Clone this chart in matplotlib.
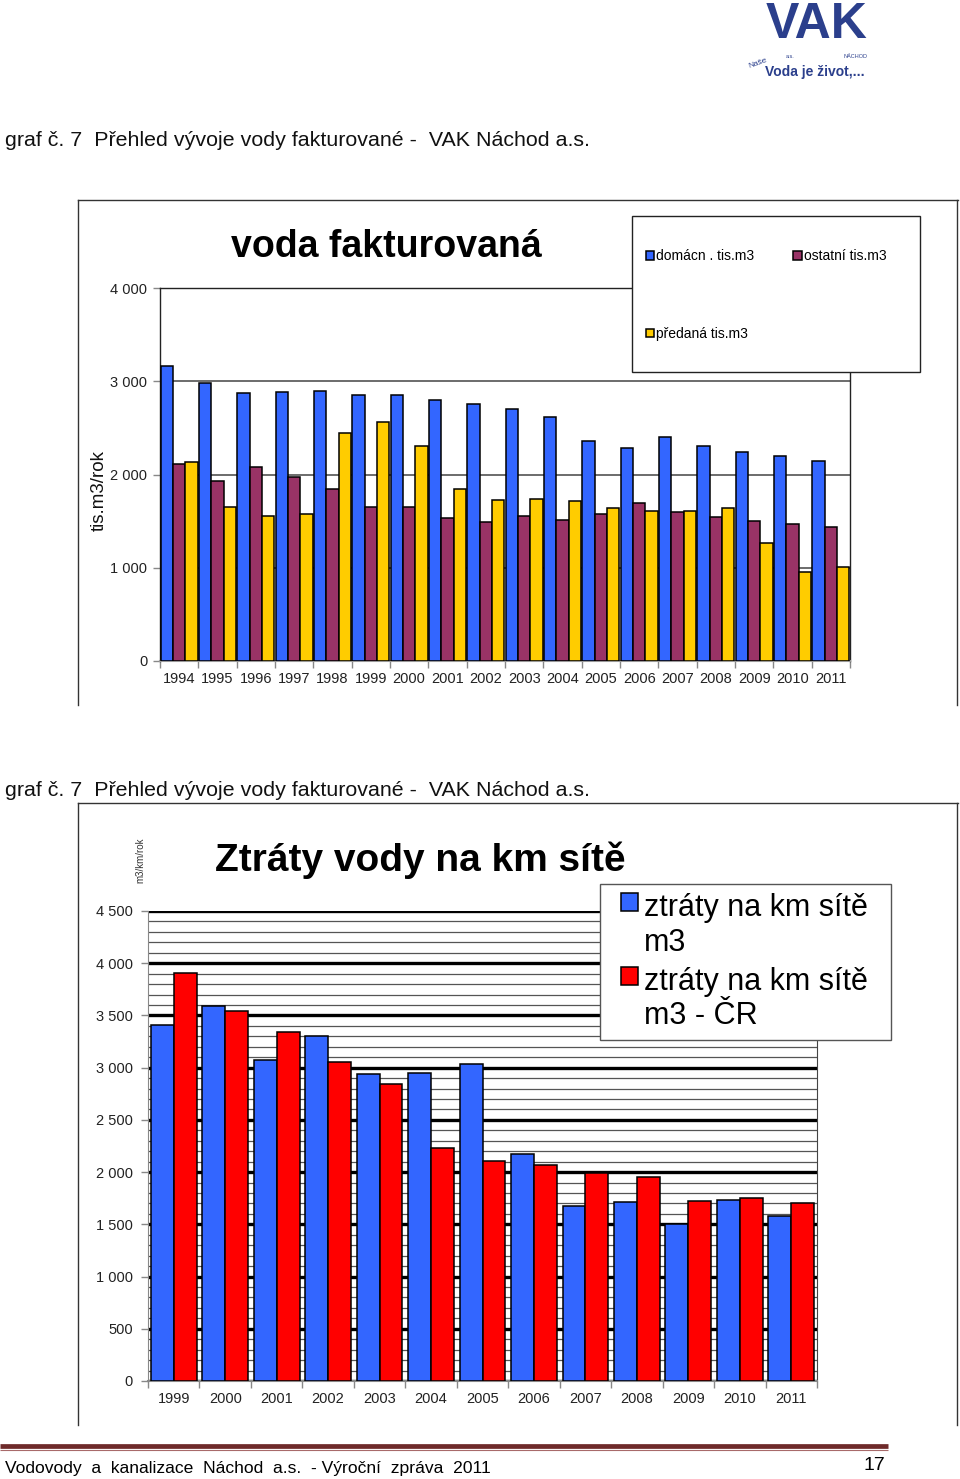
import matplotlib
matplotlib.use("Agg")
import matplotlib.pyplot as plt
import numpy as np
from matplotlib import font_manager
from matplotlib.patches import Rectangle
from matplotlib.lines import Line2D

# ---------------- data ----------------
years_top = ["1994", "1995", "1996", "1997", "1998", "1999", "2000", "2001", "2002",
             "2003", "2004", "2005", "2006", "2007", "2008", "2009", "2010", "2011"]
domacnosti = [3160, 2980, 2870, 2880, 2900, 2850, 2850, 2800, 2755,
              2700, 2620, 2355, 2280, 2400, 2305, 2240, 2195, 2145]
ostatni = [2115, 1930, 2080, 1975, 1845, 1655, 1655, 1530, 1490,
           1555, 1515, 1580, 1690, 1600, 1540, 1500, 1470, 1440]
predana = [2130, 1650, 1555, 1580, 2440, 2560, 2310, 1840, 1730,
           1740, 1720, 1640, 1610, 1610, 1640, 1270, 950, 1010]
top_series_labels = ["domácn . tis.m3", "ostatní tis.m3", "předaná tis.m3"]
top_yticks = [0, 1000, 2000, 3000, 4000]
top_yticklabels = ["0", "1 000", "2 000", "3 000", "4 000"]

years_bot = ["1999", "2000", "2001", "2002", "2003", "2004", "2005",
             "2006", "2007", "2008", "2009", "2010", "2011"]
ztraty_vak = [3410, 3590, 3070, 3305, 2935, 2945, 3035, 2170, 1675, 1710, 1500, 1730, 1580]
ztraty_cr = [3910, 3540, 3340, 3050, 2840, 2230, 2105, 2070, 1990, 1955, 1720, 1755, 1705]
bot_series_labels = ["ztráty na km sítě\nm3", "ztráty na km sítě\nm3 - ČR"]
bot_yticks = [0, 500, 1000, 1500, 2000, 2500, 3000, 3500, 4000, 4500]
bot_yticklabels = ["0", "500", "1 000", "1 500", "2 000", "2 500", "3 000", "3 500", "4 000", "4 500"]

header_text = "graf č. 7  Přehled vývoje vody fakturované -  VAK Náchod a.s."
footer_text = "Vodovody  a  kanalizace  Náchod  a.s.  - Výroční  zpráva  2011"
page_no = "17"

# ---------------- style ----------------
C_BLUE = "#3366FF"
C_MAROON = "#993366"
C_YELLOW = "#FFCC00"
C_RED = "#FF0000"

names = {f.name for f in font_manager.fontManager.ttflist}
SANS = "Liberation Sans" if "Liberation Sans" in names else "DejaVu Sans"
NARROW = "Liberation Sans Narrow" if "Liberation Sans Narrow" in names else SANS
plt.rcParams["font.family"] = [SANS, "DejaVu Sans"]

W, H = 960, 1479
fig = plt.figure(figsize=(W / 100, H / 100), dpi=100)
fig.patch.set_facecolor("white")


def fx(px):
    return px / W


def fy(py):
    return 1 - py / H


def rect(x0, y0, x1, y1):
    return [fx(x0), fy(y1), (x1 - x0) / W, (y1 - y0) / H]


def hline(x0, x1, y, **kw):
    fig.add_artist(Line2D([fx(x0), fx(x1)], [fy(y), fy(y)], transform=fig.transFigure, **kw))


def vline(x, y0, y1, **kw):
    fig.add_artist(Line2D([fx(x), fx(x)], [fy(y0), fy(y1)], transform=fig.transFigure, **kw))


# ---------------- page texts ----------------
fig.text(fx(5), fy(140), header_text, fontsize=15.4, va="center", ha="left", color="#111111")
fig.text(fx(5), fy(790), header_text, fontsize=15.4, va="center", ha="left", color="#111111")

# logo (approximation)
fig.text(fx(817), fy(25), "VAK", fontsize=36, fontweight="bold", color="#2b3f8c",
         ha="center", va="center", family=[SANS])
fig.text(fx(790), fy(57), "a.s.", fontsize=4, color="#2b3f8c", ha="center", va="center")
fig.text(fx(855), fy(57), "NÁCHOD", fontsize=4, color="#2b3f8c", ha="center", va="center")
fig.text(fx(758), fy(63), "Naše", fontsize=6, color="#2b3f8c", ha="center", va="center", rotation=20)
fig.text(fx(765), fy(72), "Voda je život,...", fontsize=10, fontweight="bold",
         color="#2b3f8c", ha="left", va="center")

# footer
hline(0, 888, 1446, color="#6e2a2a", lw=3.4, solid_capstyle="butt")
hline(0, 888, 1450, color="#a86a6a", lw=0.8, solid_capstyle="butt")
fig.text(fx(5), fy(1468), footer_text, fontsize=12.6, va="center", ha="left", family=[NARROW])
fig.text(fx(885), fy(1466), page_no, fontsize=14, va="center", ha="right", family=[NARROW])

# chart frames
for (yt, yb) in [(200, 705), (803, 1425)]:
    hline(78, 958, yt, color="#333333", lw=1.0)
    vline(78, yt, yb, color="#333333", lw=1.0)
    vline(957, yt, yb, color="#333333", lw=1.0)

# ---------------- top chart ----------------
ax1 = fig.add_axes(rect(160, 288, 850, 661))
x = np.arange(len(years_top))
w = 0.322
b1 = ax1.bar(x - w, domacnosti, w, color=C_BLUE, edgecolor="black", linewidth=1.1, zorder=3)
b2 = ax1.bar(x, ostatni, w, color=C_MAROON, edgecolor="black", linewidth=1.1, zorder=3)
b3 = ax1.bar(x + w, predana, w, color=C_YELLOW, edgecolor="black", linewidth=1.1, zorder=3)
ax1.set_xlim(-0.5, len(years_top) - 0.5)
ax1.set_ylim(0, 4000)
ax1.set_yticks(top_yticks)
ax1.set_yticklabels(top_yticklabels, fontsize=10.5, color="#222222", family=[NARROW])
ax1.set_xticks(x)
ax1.set_xticklabels(years_top, fontsize=10.5, color="#222222", family=[NARROW])
ax1.set_xticks(np.arange(len(years_top) + 1) - 0.5, minor=True)
ax1.tick_params(axis="x", which="major", length=0, pad=8)
ax1.tick_params(axis="x", which="minor", length=5, color="#888888", width=1)
ax1.tick_params(axis="y", length=5, color="#888888", width=1, pad=4)
ax1.grid(axis="y", color="#444444", linewidth=1.1, zorder=0)
ax1.set_axisbelow(True)
for s in ["top", "left", "right"]:
    ax1.spines[s].set_color("#222222")
    ax1.spines[s].set_linewidth(1.0)
ax1.spines["bottom"].set_color("#999999")
ax1.spines["bottom"].set_linewidth(1.5)

fig.text(fx(386), fy(247), "voda fakturovaná", fontsize=27, fontweight="bold",
         ha="center", va="center")
fig.text(fx(99), fy(491), "tis.m3/rok", fontsize=13.5, rotation=90,
         ha="center", va="center", color="#111111")

# legend top (row-wise order: domácn, ostatní / předaná)
fig.add_artist(Rectangle((fx(632), fy(372)), (920 - 632) / W, (372 - 216) / H,
                         transform=fig.transFigure, facecolor="white",
                         edgecolor="#222222", lw=1.0, zorder=4))
leg1 = fig.legend([b1, b3, b2], [top_series_labels[0], top_series_labels[2], top_series_labels[1]],
                  loc="upper left",
                  bbox_to_anchor=(fx(646), fy(249)), ncol=2, frameon=False,
                  handlelength=0.6, handleheight=0.6, handletextpad=0.15,
                  columnspacing=2.8, labelspacing=4.6, borderpad=0, borderaxespad=0,
                  prop={"family": NARROW, "size": 10})
leg1.set_zorder(5)

# ---------------- bottom chart ----------------
ax2 = fig.add_axes(rect(148, 911, 817, 1381))
x2 = np.arange(len(years_bot))
w2 = 0.445
c1 = ax2.bar(x2 - w2 / 2, ztraty_vak, w2, color=C_BLUE, edgecolor="black", linewidth=1.1, zorder=3)
c2 = ax2.bar(x2 + w2 / 2, ztraty_cr, w2, color=C_RED, edgecolor="black", linewidth=1.1, zorder=3)
ax2.set_xlim(-0.5, len(years_bot) - 0.5)
ax2.set_ylim(0, 4500)
ax2.set_yticks(bot_yticks)
ax2.set_yticklabels(bot_yticklabels, fontsize=10.5, color="#222222", family=[NARROW])
ax2.set_yticks(np.arange(0, 4501, 100), minor=True)
ax2.set_xticks(x2)
ax2.set_xticklabels(years_bot, fontsize=10.5, color="#222222", family=[NARROW])
ax2.tick_params(axis="x", which="major", length=0, pad=8)
ax2.tick_params(axis="y", which="major", length=5, color="#888888", width=1, pad=6)
ax2.tick_params(axis="y", which="minor", length=0)
ax2.grid(axis="y", which="major", color="black", linewidth=2.4, zorder=0)
ax2.grid(axis="y", which="minor", color="#555555", linewidth=0.9, zorder=0)
ax2.set_axisbelow(True)
ax2.spines["top"].set_visible(False)
ax2.spines["left"].set_color("#888888")
ax2.spines["right"].set_color("#444444")
ax2.spines["bottom"].set_color("#888888")
ax2.spines["bottom"].set_linewidth(1.5)
ax2.set_xticks(np.arange(len(years_bot) + 1) - 0.5, minor=True)
ax2.tick_params(axis="x", which="minor", length=5, color="#888888", width=1)

fig.text(fx(420), fy(860), "Ztráty vody na km sítě", fontsize=28, fontweight="bold",
         ha="center", va="center")
fig.text(fx(140), fy(860), "m3/km/rok", fontsize=7, rotation=90,
         ha="center", va="center", color="#333333")

fig.add_artist(Rectangle((fx(600), fy(1040)), (891 - 600) / W, (1040 - 884) / H,
                         transform=fig.transFigure, facecolor="white",
                         edgecolor="#555555", lw=1.0, zorder=4))
leg2 = fig.legend([c1, c2], bot_series_labels, loc="upper left",
                  bbox_to_anchor=(fx(621), fy(893)), ncol=1, frameon=False,
                  handlelength=0.55, handleheight=0.55, handletextpad=0.2,
                  labelspacing=0.3, borderpad=0, borderaxespad=0,
                  prop={"family": SANS, "size": 22})
for t in leg2.get_texts():
    t.set_linespacing(1.2)
try:
    for col in leg2._legend_handle_box.get_children():
        for hp in col.get_children():
            hp.align = "top"
except Exception:
    pass
leg2.set_zorder(5)

fig.savefig("out.png", dpi=100, facecolor="white")
